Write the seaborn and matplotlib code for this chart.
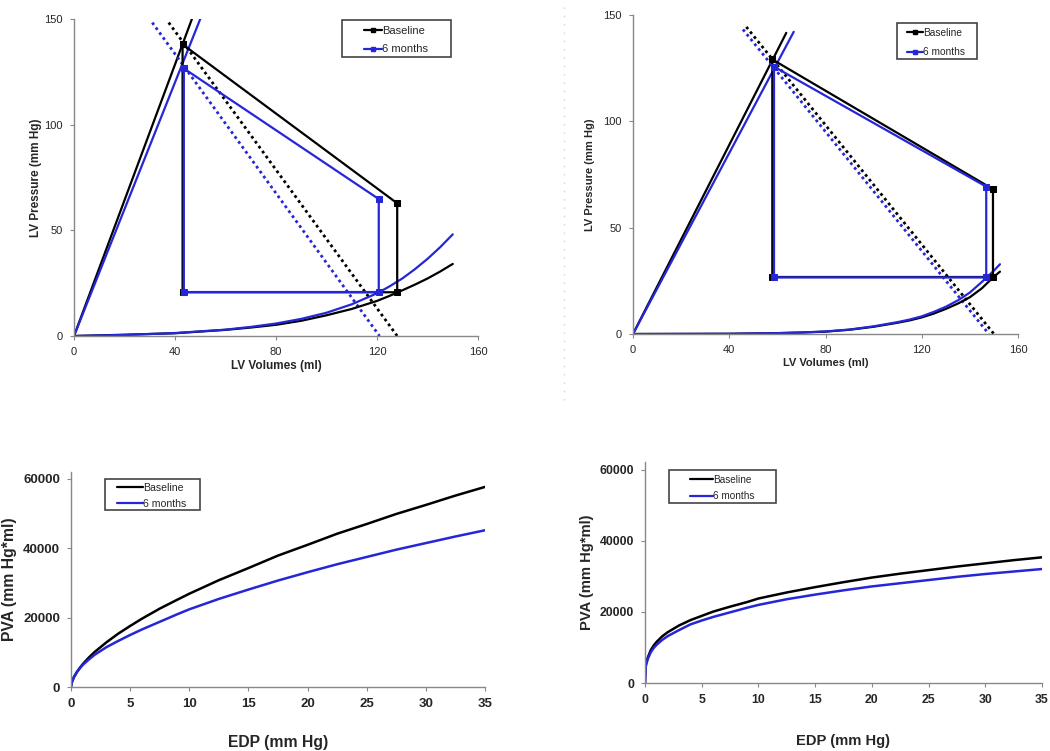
import matplotlib
matplotlib.use("Agg")
import matplotlib.pyplot as plt
import seaborn as sns
from matplotlib.lines import Line2D
from matplotlib.patches import Rectangle

sns.set_style("ticks")
plt.rcParams['font.family'] = ['Liberation Sans', 'DejaVu Sans']

BLACK = "#000000"
BLUE = "#2626d9"
series_names = ["Baseline", "6 months"]

# ---------------- Top-left PV loops ----------------
tl_loop_base_v = [43, 128, 128, 43, 43]
tl_loop_base_p = [138, 62.8, 20.7, 20.7, 138]
tl_loop_6m_v = [43.5, 120.7, 120.7, 43.5, 43.5]
tl_loop_6m_p = [126.6, 64.8, 20.8, 20.8, 126.6]
tl_espvr_base_v = [0, 46.7]
tl_espvr_base_p = [0, 150]
tl_espvr_6m_v = [0, 50]
tl_espvr_6m_p = [0, 150]
tl_ea_base_v = [37.5, 128]
tl_ea_base_p = [148.3, 0]
tl_ea_6m_v = [31, 121]
tl_ea_6m_p = [148.3, 0]
tl_edpvr_v = [0, 20, 40, 60, 70, 80, 90, 100, 110, 120, 125, 130, 135, 140, 145, 150]
tl_edpvr_base_p = [0, 0.6, 1.3, 2.9, 4.0, 5.3, 7.2, 9.8, 12.8, 16.6, 19.0, 21.6, 24.3, 27.2, 30.5, 34.1]
tl_edpvr_6m_p = [0, 0.5, 1.4, 3.0, 4.3, 5.9, 8.1, 11.0, 15.0, 20.2, 23.5, 27.2, 31.6, 36.5, 42.0, 48.1]

# ---------------- Top-right PV loops ----------------
tr_loop_base_v = [57.9, 149.6, 149.6, 57.9, 57.9]
tr_loop_base_p = [129.1, 68.1, 26.8, 26.8, 129.1]
tr_loop_6m_v = [58.6, 146.8, 146.8, 58.6, 58.6]
tr_loop_6m_p = [125.7, 69.3, 26.6, 26.6, 125.7]
tr_espvr_base_v = [0, 63.7]
tr_espvr_base_p = [0, 141.6]
tr_espvr_6m_v = [0, 66.8]
tr_espvr_6m_p = [0, 142.1]
tr_ea_base_v = [47.1, 150]
tr_ea_base_p = [144.4, 0]
tr_ea_6m_v = [45.7, 147.9]
tr_ea_6m_p = [143.2, 0]
tr_edpvr_v = [0, 40, 60, 70, 80, 90, 100, 110, 115, 120, 125, 130, 135, 140, 145, 150, 152.5]
tr_edpvr_base_p = [0, 0.1, 0.4, 0.7, 1.1, 2.0, 3.4, 5.3, 6.4, 7.8, 9.6, 11.8, 14.3, 17.3, 21.5, 27.0, 29.3]
tr_edpvr_6m_p = [0, 0.1, 0.4, 0.7, 1.2, 2.1, 3.6, 5.6, 6.8, 8.3, 10.4, 12.8, 15.8, 19.5, 24.5, 29.8, 32.8]

# ---------------- Bottom PVA vs EDP ----------------
edp = [0, 0.05, 0.1, 0.25, 0.5, 0.75, 1, 1.5, 2, 3, 4, 5, 6, 7.5, 9, 10,
       12.5, 15, 17.5, 20, 22.5, 25, 27.5, 30, 32.5, 35]
bl_pva_base = [0, 1070, 1630, 2860, 4330, 5520, 6620, 8470, 10100, 12900, 15400, 17600,
               19700, 22600, 25200, 26900, 30800, 34300, 37900, 41000, 44200, 47000,
               49900, 52500, 55200, 57700]
bl_pva_6m = [0, 1050, 1600, 2900, 4300, 5400, 6400, 7900, 9300, 11500, 13300, 15000,
             16600, 18800, 21000, 22400, 25400, 28100, 30700, 33100, 35400, 37500,
             39600, 41500, 43400, 45200]
br_pva_base = [0, 4400, 5500, 7200, 9200, 10500, 11500, 13100, 14300, 16200, 17700, 18900,
               20100, 21500, 22800, 23800, 25500, 27000, 28400, 29700, 30800, 31800,
               32800, 33700, 34600, 35400]
br_pva_6m = [0, 4200, 5200, 6800, 8600, 9800, 10700, 12100, 13200, 14900, 16500, 17600,
             18600, 19900, 21200, 22000, 23600, 24900, 26100, 27200, 28100, 29000,
             29900, 30700, 31400, 32100]

fig = plt.figure(figsize=(10.5, 7.51), dpi=100)

W, H = 1050, 751
def axes_px(l, r, t, b):
    return fig.add_axes([l / W, 1 - b / H, (r - l) / W, (b - t) / H])

# faint dotted separator between the two upper panels
fig.add_artist(Line2D([564 / W, 564 / W], [1 - 400 / H, 1.0], transform=fig.transFigure,
                      color="#d4d4d4", linestyle=(0, (1, 5)), linewidth=1.0))

ax_tl = axes_px(74, 478, 19, 336)
ax_tr = axes_px(633, 1018, 15, 334)
ax_bl = axes_px(71, 485, 472, 687)
ax_br = axes_px(645, 1042, 462, 683)

def line(ax, x, y, color, ls="-", lw=1.6, marker=None, ms=4):
    sns.lineplot(x=x, y=y, ax=ax, sort=False, estimator=None, color=color,
                 linestyle=ls, linewidth=lw, marker=marker, markersize=ms,
                 markeredgecolor=color, markerfacecolor=color)

def style_spines(ax):
    sns.despine(ax=ax)
    for s in ["left", "bottom"]:
        ax.spines[s].set_color("#888888")
        ax.spines[s].set_linewidth(1.0)

def boxed_legend(ax, handles, box, handle_x, mid_y, fs, hl, ls):
    # box = (left, right, top, bottom) in figure pixels
    l, r, t, b = box
    rect = Rectangle((l / W, 1 - b / H), (r - l) / W, (b - t) / H,
                     transform=fig.transFigure, facecolor="white",
                     edgecolor="#444444", linewidth=1.2, zorder=4, clip_on=False)
    ax.add_artist(rect)
    leg = ax.legend(handles, series_names, loc="center left",
                    bbox_to_anchor=(handle_x / W, 1 - mid_y / H),
                    bbox_transform=fig.transFigure, fontsize=fs, frameon=False,
                    handlelength=hl, handletextpad=0.0, borderpad=0.0,
                    labelspacing=ls, borderaxespad=0)
    leg.set_zorder(6)
    return leg

def pv_panel(ax, loops, espvr, ea, edv, edb, ed6, tickfs, labfs, ylpad, legcfg):
    (lbv, lbp, l6v, l6p) = loops
    (ebv, ebp, e6v, e6p) = espvr
    (abv, abp, a6v, a6p) = ea
    line(ax, ebv, ebp, BLACK)
    line(ax, e6v, e6p, BLUE)
    line(ax, abv, abp, BLACK, ls=(0, (1, 1.2)), lw=2.0)
    line(ax, a6v, a6p, BLUE, ls=(0, (1, 1.2)), lw=2.0)
    line(ax, edv, edb, BLACK)
    line(ax, edv, ed6, BLUE)
    line(ax, lbv, lbp, BLACK, marker="s", ms=4)
    line(ax, l6v, l6p, BLUE, marker="s", ms=4)
    ax.set_xlim(0, 160)
    ax.set_ylim(0, 150)
    ax.set_xticks([0, 40, 80, 120, 160])
    ax.set_yticks([0, 50, 100, 150])
    ax.tick_params(labelsize=tickfs, length=3, width=0.8, color="#888888", pad=5)
    ax.set_xlabel("LV Volumes (ml)", fontsize=labfs, fontweight="bold", labelpad=2)
    ax.set_ylabel("LV Pressure (mm Hg)", fontsize=labfs, fontweight="bold", labelpad=ylpad)
    style_spines(ax)
    handles = [Line2D([], [], color=BLACK, lw=1.6, marker="s", ms=3.5),
               Line2D([], [], color=BLUE, lw=1.6, marker="s", ms=3.5)]
    boxed_legend(ax, handles, *legcfg)

pv_panel(ax_tl,
         (tl_loop_base_v, tl_loop_base_p, tl_loop_6m_v, tl_loop_6m_p),
         (tl_espvr_base_v, tl_espvr_base_p, tl_espvr_6m_v, tl_espvr_6m_p),
         (tl_ea_base_v, tl_ea_base_p, tl_ea_6m_v, tl_ea_6m_p),
         tl_edpvr_v, tl_edpvr_base_p, tl_edpvr_6m_p,
         tickfs=8, labfs=8.5, ylpad=2,
         legcfg=((342, 451, 20, 57), 364, 40, 8, 1.62, 0.8))
pv_panel(ax_tr,
         (tr_loop_base_v, tr_loop_base_p, tr_loop_6m_v, tr_loop_6m_p),
         (tr_espvr_base_v, tr_espvr_base_p, tr_espvr_6m_v, tr_espvr_6m_p),
         (tr_ea_base_v, tr_ea_base_p, tr_ea_6m_v, tr_ea_6m_p),
         tr_edpvr_v, tr_edpvr_base_p, tr_edpvr_6m_p,
         tickfs=8, labfs=8, ylpad=6,
         legcfg=((897, 977, 23, 59), 907, 42.5, 7.3, 1.6, 0.9))

def pva_panel(ax, yb, y6, tickfs, labfs, ylim, xlpad, legcfg):
    line(ax, edp, yb, BLACK, lw=1.8)
    line(ax, edp, y6, BLUE, lw=1.8)
    ax.set_xlim(0, 35)
    ax.set_ylim(0, ylim)
    ax.set_xticks([0, 5, 10, 15, 20, 25, 30, 35])
    ax.set_yticks([0, 20000, 40000, 60000])
    ax.tick_params(labelsize=tickfs, length=3, width=0.8, color="#888888", pad=5)
    for lab in ax.get_xticklabels() + ax.get_yticklabels():
        lab.set_fontweight("bold")
    ax.set_xlabel("EDP (mm Hg)", fontsize=labfs, fontweight="bold", labelpad=xlpad)
    ax.set_ylabel("PVA (mm Hg*ml)", fontsize=labfs, fontweight="bold", labelpad=4)
    style_spines(ax)
    handles = [Line2D([], [], color=BLACK, lw=1.6), Line2D([], [], color=BLUE, lw=1.6)]
    boxed_legend(ax, handles, *legcfg)

pva_panel(ax_bl, bl_pva_base, bl_pva_6m, tickfs=9.5, labfs=11.3, ylim=62000, xlpad=18,
          legcfg=((105, 200, 479, 510), 117, 496, 7.6, 2.45, 0.55))
pva_panel(ax_br, br_pva_base, br_pva_6m, tickfs=8.8, labfs=10.6, ylim=62250, xlpad=20,
          legcfg=((669, 776, 470, 503), 690, 488, 7.2, 2.3, 0.63))

fig.savefig("out.png", dpi=100)
